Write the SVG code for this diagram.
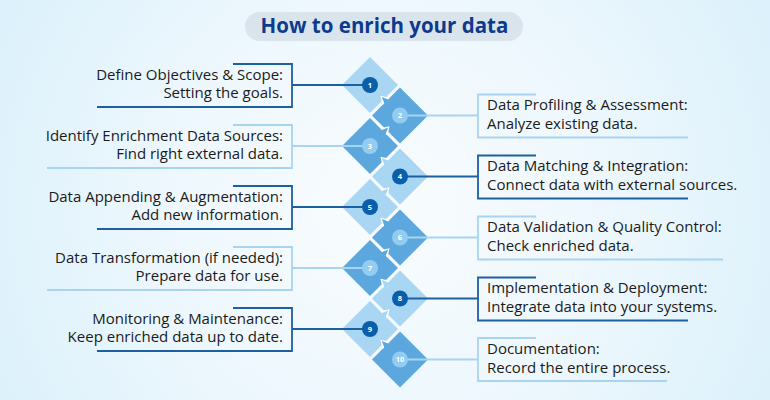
<svg xmlns="http://www.w3.org/2000/svg" xmlns:xlink="http://www.w3.org/1999/xlink" width="770" height="400" viewBox="0 0 770 400">
<defs>
<radialGradient id="bg" cx="385" cy="210" r="430" gradientUnits="userSpaceOnUse">
<stop offset="0" stop-color="#f9fcfe"/>
<stop offset="0.55" stop-color="#ecf7fd"/>
<stop offset="1" stop-color="#dcf1fb"/>
</radialGradient>
<path id="dia" d="M0,-28 L28,0 L0,28 L-28,0 Z"/>
<polygon id="tabw" points="-1.6,-5 -1.6,5 6.5,0"/>
<polygon id="tabc" points="-3,-3.2 -3,3.2 4.6,0"/>
</defs>
<style>
.lt{fill:#a8d6f3}
.md{fill:#5ca8de}
.cd{fill:#0b5ea9}
.cl{fill:#92ccf0}
.num{font-family:"Open Sans","Liberation Sans",sans-serif;font-size:7.5px;font-weight:700;fill:#ffffff;text-anchor:middle}
.t1{font-family:"Open Sans","Liberation Sans",sans-serif;font-size:15px;font-weight:500;fill:#1b1b1b}
.t2{font-family:"Open Sans","Liberation Sans",sans-serif;font-size:15px;font-weight:400;fill:#1b1b1b}
.l{text-anchor:end}
.bd{fill:none;stroke:#1c609f;stroke-width:1.8}
.bl{fill:none;stroke:#a9d4ef;stroke-width:1.8}
.cnd{stroke:#1c609f;stroke-width:1.8}
.cnl{stroke:#a9d4ef;stroke-width:1.8}
.tw{fill:#ffffff}
</style>
<rect width="770" height="400" fill="url(#bg)"/>
<g id="title">
<rect x="245" y="12" width="278" height="29" rx="14.5" fill="#dae4ec"/>
<text x="384.5" y="33" text-anchor="middle" font-family="Open Sans, Liberation Sans, sans-serif" font-size="20.5" font-weight="700" fill="#0d3a8c">How to enrich your data</text>
</g>
<g id="puzzle">
<use href="#dia" x="370" y="85" class="lt"/>
<use href="#dia" x="400" y="115.5" class="md"/>
<use href="#dia" x="370" y="146" class="md"/>
<use href="#dia" x="400" y="176.5" class="lt"/>
<use href="#dia" x="370" y="207" class="lt"/>
<use href="#dia" x="400" y="237.5" class="md"/>
<use href="#dia" x="370" y="268" class="md"/>
<use href="#dia" x="400" y="298.5" class="lt"/>
<use href="#dia" x="370" y="329" class="lt"/>
<use href="#dia" x="400" y="359.5" class="md"/>
<g transform="translate(385,100.25) rotate(-135)"><use href="#tabw" class="tw"/><use href="#tabc" class="md"/></g>
<g transform="translate(385,130.75) rotate(-45)"><use href="#tabw" class="tw"/><use href="#tabc" class="md"/></g>
<g transform="translate(385,161.25) rotate(-135)"><use href="#tabw" class="tw"/><use href="#tabc" class="lt"/></g>
<g transform="translate(385,191.75) rotate(-45)"><use href="#tabw" class="tw"/><use href="#tabc" class="lt"/></g>
<g transform="translate(385,222.25) rotate(-135)"><use href="#tabw" class="tw"/><use href="#tabc" class="md"/></g>
<g transform="translate(385,252.75) rotate(-45)"><use href="#tabw" class="tw"/><use href="#tabc" class="md"/></g>
<g transform="translate(385,283.25) rotate(-135)"><use href="#tabw" class="tw"/><use href="#tabc" class="lt"/></g>
<g transform="translate(385,313.75) rotate(-45)"><use href="#tabw" class="tw"/><use href="#tabc" class="lt"/></g>
<g transform="translate(385,344.25) rotate(-135)"><use href="#tabw" class="tw"/><use href="#tabc" class="md"/></g>
</g>
<g id="connectors">
<line x1="292" y1="85" x2="363" y2="85" class="cnd"/>
<line x1="407" y1="115.5" x2="478" y2="115.5" class="cnl"/>
<line x1="292" y1="146" x2="363" y2="146" class="cnl"/>
<line x1="407" y1="176.5" x2="478" y2="176.5" class="cnd"/>
<line x1="292" y1="207" x2="363" y2="207" class="cnd"/>
<line x1="407" y1="237.5" x2="478" y2="237.5" class="cnl"/>
<line x1="292" y1="268" x2="363" y2="268" class="cnl"/>
<line x1="407" y1="298.5" x2="478" y2="298.5" class="cnd"/>
<line x1="292" y1="329" x2="363" y2="329" class="cnd"/>
<line x1="407" y1="359.5" x2="478" y2="359.5" class="cnl"/>
</g>
<g id="step1">
<circle cx="370" cy="85" r="8" class="cd"/><text x="370" y="87.7" class="num">1</text>
<polyline points="233,64 292,64 292,107 97,107" class="bd"/>
<text x="283" y="79.5" class="t1 l">Define Objectives &amp; Scope:</text>
<text x="283" y="98" class="t2 l">Setting the goals.</text>
</g>
<g id="step2">
<circle cx="400" cy="115.5" r="8" class="cl"/><text x="400" y="118.2" class="num">2</text>
<polyline points="536,94.5 478,94.5 478,137.5 688,137.5" class="bl"/>
<text x="487" y="110" class="t1">Data Profiling &amp; Assessment:</text>
<text x="487" y="128.5" class="t2">Analyze existing data.</text>
</g>
<g id="step3">
<circle cx="370" cy="146" r="8" class="cl"/><text x="370" y="148.7" class="num">3</text>
<polyline points="233,125 292,125 292,168 47,168" class="bl"/>
<text x="283" y="140.5" class="t1 l">Identify Enrichment Data Sources:</text>
<text x="283" y="159" class="t2 l">Find right external data.</text>
</g>
<g id="step4">
<circle cx="400" cy="176.5" r="8" class="cd"/><text x="400" y="179.2" class="num">4</text>
<polyline points="536,155.5 478,155.5 478,198.5 688,198.5" class="bd"/>
<text x="487" y="171" class="t1">Data Matching &amp; Integration:</text>
<text x="487" y="189.5" class="t2">Connect data with external sources.</text>
</g>
<g id="step5">
<circle cx="370" cy="207" r="8" class="cd"/><text x="370" y="209.7" class="num">5</text>
<polyline points="233,186 292,186 292,229 97,229" class="bd"/>
<text x="283" y="201.5" class="t1 l">Data Appending &amp; Augmentation:</text>
<text x="283" y="220" class="t2 l">Add new information.</text>
</g>
<g id="step6">
<circle cx="400" cy="237.5" r="8" class="cl"/><text x="400" y="240.2" class="num">6</text>
<polyline points="536,216.5 478,216.5 478,259.5 723,259.5" class="bl"/>
<text x="487" y="232" class="t1">Data Validation &amp; Quality Control:</text>
<text x="487" y="250.5" class="t2">Check enriched data.</text>
</g>
<g id="step7">
<circle cx="370" cy="268" r="8" class="cl"/><text x="370" y="270.7" class="num">7</text>
<polyline points="233,247 292,247 292,290 47,290" class="bl"/>
<text x="283" y="262.5" class="t1 l">Data Transformation (if needed):</text>
<text x="283" y="281" class="t2 l">Prepare data for use.</text>
</g>
<g id="step8">
<circle cx="400" cy="298.5" r="8" class="cd"/><text x="400" y="301.2" class="num">8</text>
<polyline points="536,277.5 478,277.5 478,320.5 688,320.5" class="bd"/>
<text x="487" y="293" class="t1">Implementation &amp; Deployment:</text>
<text x="487" y="311.5" class="t2">Integrate data into your systems.</text>
</g>
<g id="step9">
<circle cx="370" cy="329" r="8" class="cd"/><text x="370" y="331.7" class="num">9</text>
<polyline points="233,308 292,308 292,351 97,351" class="bd"/>
<text x="283" y="323.5" class="t1 l">Monitoring &amp; Maintenance:</text>
<text x="283" y="342" class="t2 l">Keep enriched data up to date.</text>
</g>
<g id="step10">
<circle cx="400" cy="359.5" r="8" class="cl"/><text x="400" y="362" class="num" font-size="7">10</text>
<polyline points="536,338 478,338 478,381 667,381" class="bl"/>
<text x="487" y="354" class="t1">Documentation:</text>
<text x="487" y="372.5" class="t2">Record the entire process.</text>
</g>
</svg>
